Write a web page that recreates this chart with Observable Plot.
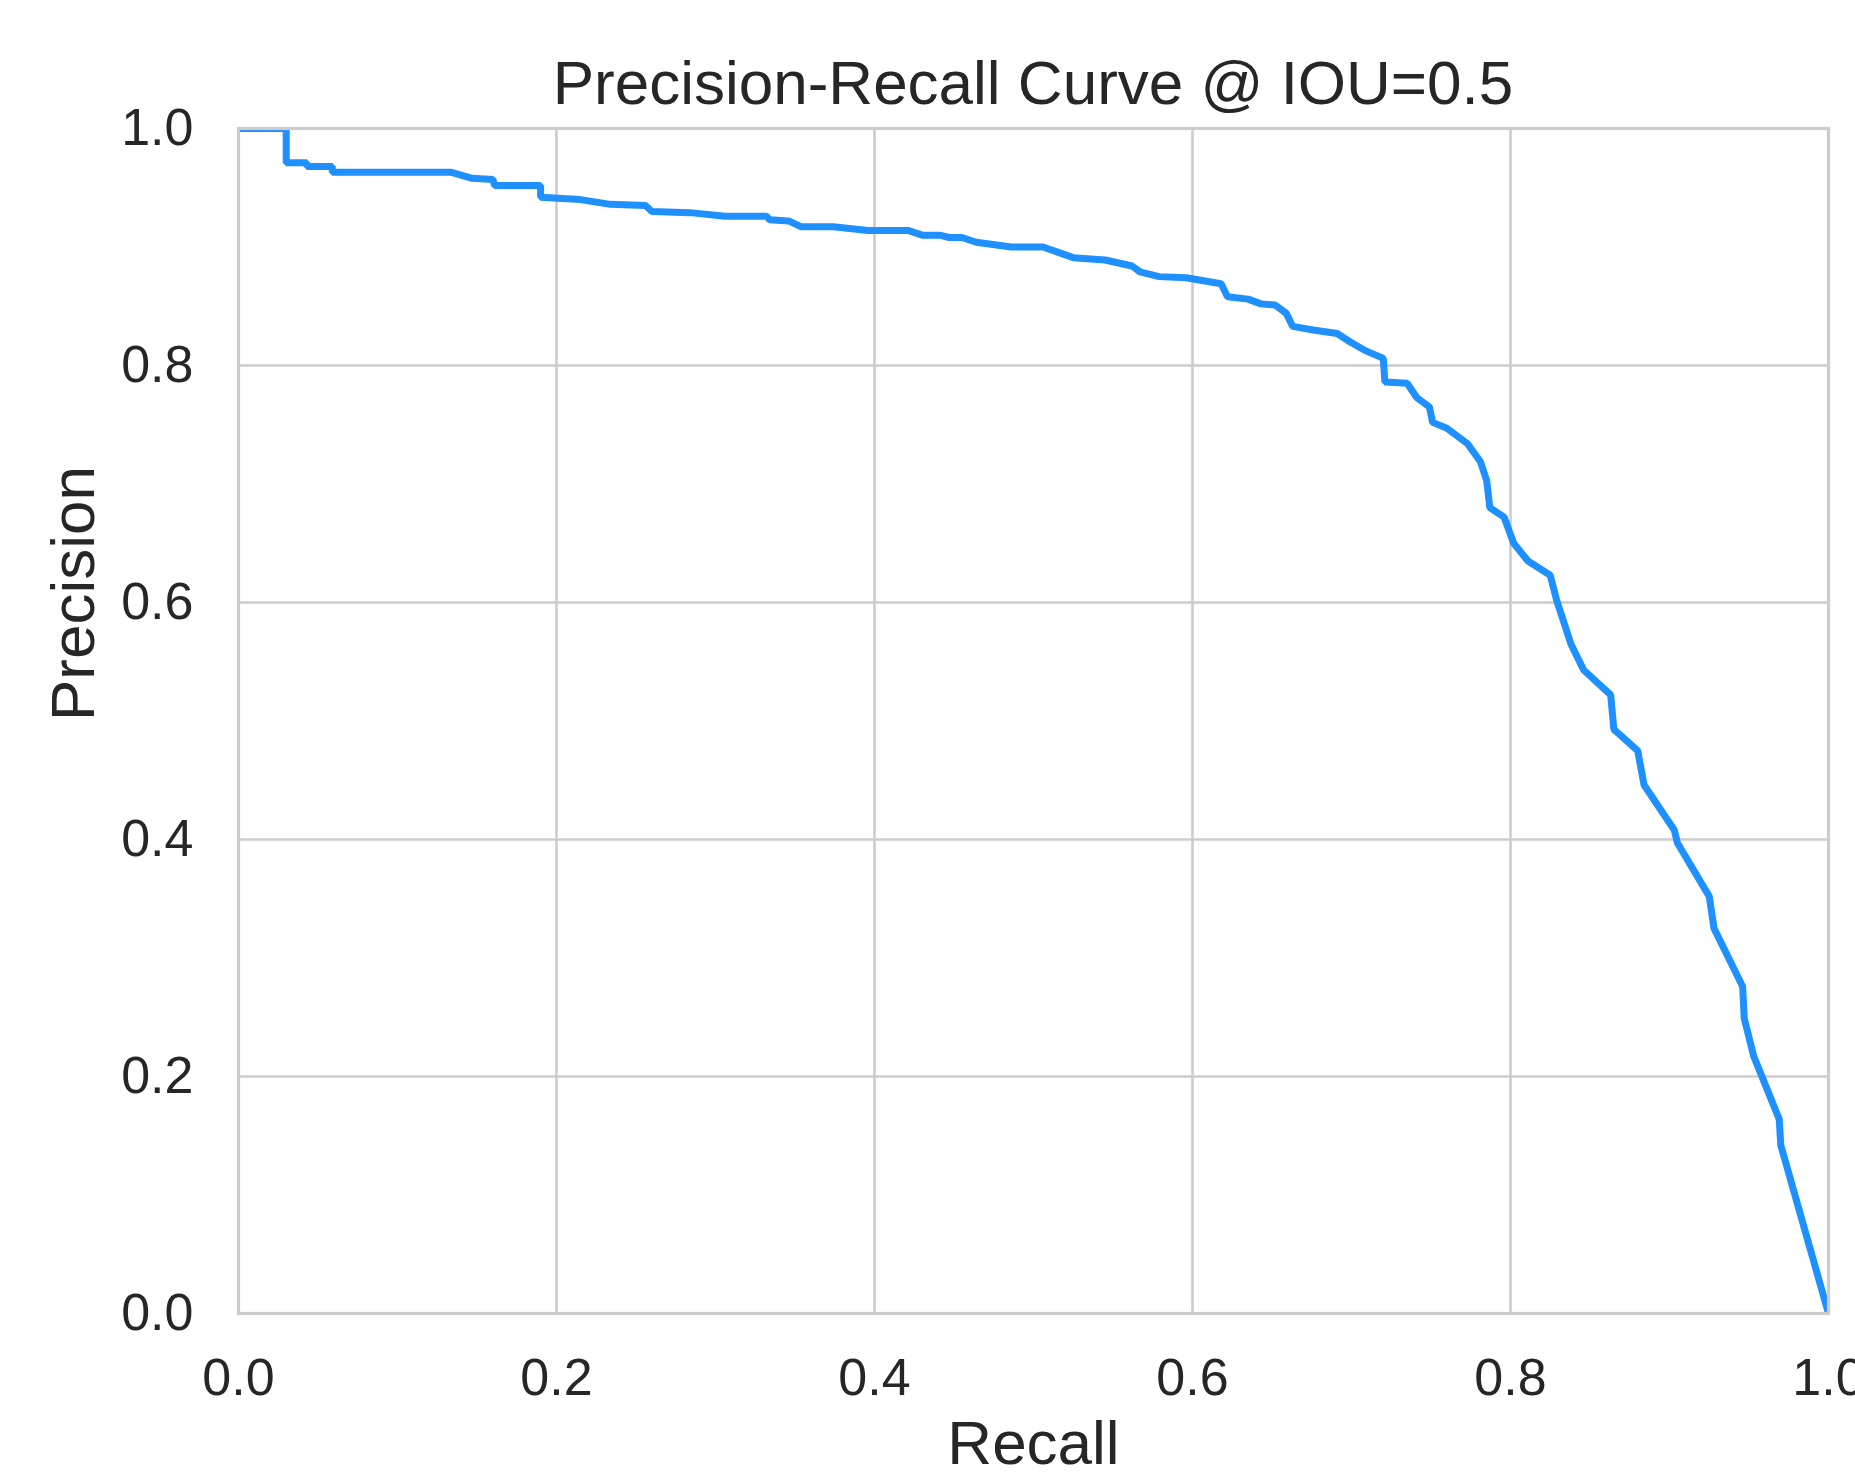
<!DOCTYPE html>
<html>
<head>
<meta charset="utf-8">
<script src="https://cdn.jsdelivr.net/npm/d3@7"></script>
<script src="https://cdn.jsdelivr.net/npm/@observablehq/plot@0.6"></script>
<style>
html, body { margin: 0; padding: 0; background: #fff; overflow: hidden; }
#wrap { position: relative; width: 1855px; height: 1475px; }
#title {
  position: absolute; left: 238px; top: 52px; width: 1590px; height: 62px;
  text-align: center; white-space: nowrap; z-index: 2;
  font: 62px/62px "Liberation Sans", Arial, sans-serif; color: #262626;
}
#chart svg { display: block; }
</style>
</head>
<body>
<div id="wrap">
<div id="chart"></div>
<div id="title"></div>
</div>
<script>
const titleText = "Precision-Recall Curve @ IOU=0.5";
const xLabel = "Recall";
const yLabel = "Precision";
const xTicks = [0.0, 0.2, 0.4, 0.6, 0.8, 1.0];
const yTicks = [0.0, 0.2, 0.4, 0.6, 0.8, 1.0];

const recall = [
  0.000, 0.030, 0.030, 0.043, 0.043, 0.059, 0.059, 0.134, 0.147, 0.160,
  0.161, 0.190, 0.190, 0.215, 0.234, 0.256, 0.260, 0.284, 0.306, 0.332,
  0.334, 0.346, 0.354, 0.374, 0.396, 0.421, 0.430, 0.441, 0.447, 0.455,
  0.464, 0.486, 0.506, 0.525, 0.545, 0.562, 0.567, 0.579, 0.596, 0.618,
  0.622, 0.635, 0.643, 0.652, 0.659, 0.663, 0.676, 0.691, 0.699, 0.708,
  0.720, 0.721, 0.735, 0.741, 0.749, 0.751, 0.760, 0.773, 0.781, 0.785,
  0.787, 0.796, 0.802, 0.811, 0.825, 0.829, 0.838, 0.846, 0.863, 0.865,
  0.880, 0.884, 0.903, 0.905, 0.925, 0.928, 0.946, 0.947, 0.953, 0.969,
  0.970, 1.000
];
const precision = [
  1.000, 1.000, 0.971, 0.971, 0.968, 0.968, 0.963, 0.963, 0.958, 0.957,
  0.952, 0.952, 0.942, 0.940, 0.936, 0.935, 0.930, 0.929, 0.926, 0.926,
  0.923, 0.922, 0.917, 0.917, 0.914, 0.914, 0.910, 0.910, 0.908, 0.908,
  0.904, 0.900, 0.900, 0.891, 0.889, 0.884, 0.879, 0.875, 0.874, 0.869,
  0.858, 0.856, 0.852, 0.851, 0.844, 0.833, 0.830, 0.827, 0.820, 0.813,
  0.806, 0.786, 0.785, 0.773, 0.765, 0.752, 0.747, 0.734, 0.719, 0.703,
  0.680, 0.672, 0.650, 0.635, 0.623, 0.602, 0.565, 0.543, 0.522, 0.493,
  0.475, 0.446, 0.408, 0.397, 0.352, 0.325, 0.276, 0.249, 0.217, 0.164,
  0.142, 0.000
];

document.getElementById("title").textContent = titleText;
const data = recall.map((r, i) => ({recall: r, precision: precision[i]}));
const fmt = d3.format(".1f");
const font = '"Liberation Sans", Arial, sans-serif';

const chart = Plot.plot({
  width: 1855,
  height: 1475,
  marginTop: 128,
  marginBottom: 162,
  marginLeft: 238,
  marginRight: 27,
  x: {domain: [0, 1]},
  y: {domain: [0, 1]},
  style: {fontFamily: font, color: "#262626", background: "#fff"},
  marks: [
    Plot.ruleX(xTicks, {stroke: "#cccccc", strokeWidth: 2.6}),
    Plot.ruleY(yTicks, {stroke: "#cccccc", strokeWidth: 2.6}),
    Plot.line(data, {x: "recall", y: "precision", stroke: "#1E90FF", strokeWidth: 7, strokeLinejoin: "miter", clip: true}),
    Plot.frame({stroke: "#cccccc", strokeWidth: 3.2}),
    Plot.axisX(xTicks, {tickSize: 0, tickPadding: 45, tickFormat: fmt, fontSize: 52, label: null}),
    Plot.axisY(yTicks, {tickSize: 0, tickPadding: 45, tickFormat: fmt, fontSize: 52, label: null}),
    Plot.text([xLabel], {text: d => d, frameAnchor: "bottom", lineAnchor: "bottom", dy: 150, fontSize: 62, fill: "#262626"}),
    Plot.text([yLabel], {text: d => d, frameAnchor: "left", rotate: -90, lineAnchor: "bottom", dx: -145, fontSize: 62, fill: "#262626"})
  ]
});
document.getElementById("chart").append(chart);
</script>
</body>
</html>
